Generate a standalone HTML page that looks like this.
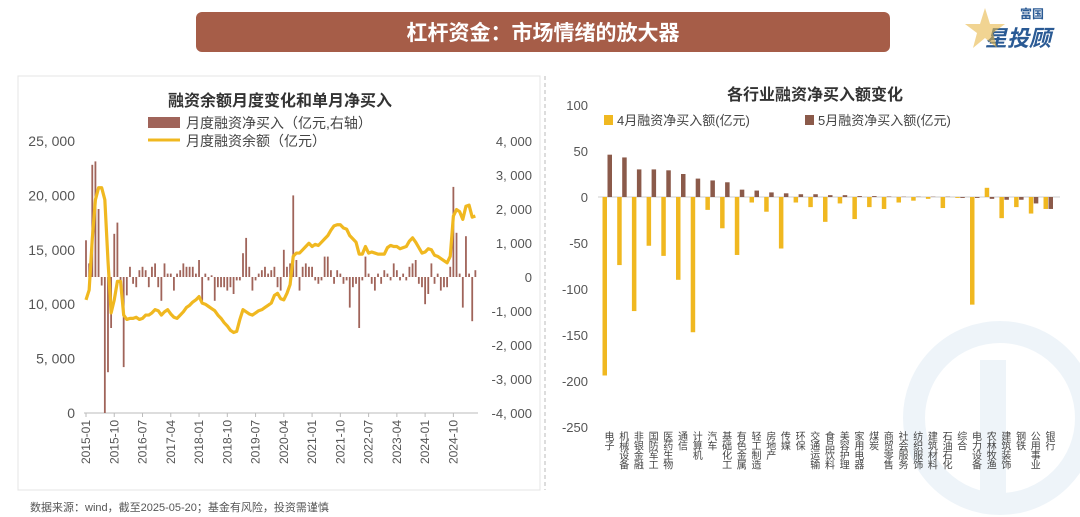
<!DOCTYPE html>
<html><head><meta charset="utf-8">
<style>
html,body{margin:0;width:1080px;height:517px;background:#fff;overflow:hidden;font-family:"Liberation Sans","Noto Sans CJK SC",sans-serif;position:relative}
svg{position:absolute;left:0;top:0;overflow:hidden}
</style></head>
<body>
<svg id="s" width="1080" height="517" viewBox="0 0 1080 517">
  <g opacity="0.35">
    <circle cx="1000" cy="418" r="86" fill="none" stroke="#cfe0ee" stroke-width="22"/>
    <rect x="980" y="360" width="26" height="150" fill="#cfe0ee"/>
  </g>
  <rect x="196" y="12" width="694" height="40" rx="6" fill="#a65d48"/>
  <text x="543" y="40" text-anchor="middle" font-size="21" font-weight="bold" fill="#fff">杠杆资金：市场情绪的放大器</text>
  <text x="1020" y="18" font-size="12" font-weight="bold" fill="#2a5a94">富国</text>
  <text x="985" y="46" font-size="22" font-weight="bold" fill="#2a5a94" font-style="italic">星投顾</text>
  <polygon points="985,8 990,24 1005,24 993,33 997,48 985,38 973,48 977,33 965,24 980,24" fill="#e8b84a" opacity="0.6"/>
  <rect x="18" y="76" width="522" height="414" fill="none" stroke="#e4e4e4"/>
  <line x1="545" y1="76" x2="545" y2="490" stroke="#bbb" stroke-dasharray="4,3"/>
  <text x="280" y="106" text-anchor="middle" font-size="16" font-weight="bold" fill="#333">融资余额月度变化和单月净买入</text>
  <rect x="148" y="117" width="32" height="11" fill="#a0645a"/>
  <text x="186" y="128" font-size="14" fill="#444">月度融资净买入（亿元,右轴）</text>
  <line x1="148" y1="140" x2="180" y2="140" stroke="#f0b820" stroke-width="3"/>
  <text x="186" y="146" font-size="14" fill="#444">月度融资余额（亿元）</text>
  <text x="815" y="100" text-anchor="middle" font-size="16" font-weight="bold" fill="#333">各行业融资净买入额变化</text>
  <rect x="604" y="115" width="9" height="10" fill="#f0b820"/>
  <text x="617" y="125" font-size="13" fill="#444">4月融资净买入额(亿元)</text>
  <rect x="805" y="115" width="9" height="10" fill="#8b5a4a"/>
  <text x="818" y="125" font-size="13" fill="#444">5月融资净买入额(亿元)</text>
  <g id="left"></g>
  <g id="right"></g>
  <text x="30" y="511" font-size="11" fill="#555">数据来源：wind，截至2025-05-20；基金有风险，投资需谨慎</text>
</svg>
<script>
const balance=[10400,11300,16000,19600,20700,20700,19600,14000,9200,10400,12100,12100,
9000,8600,8700,8700,8800,8600,8700,9000,9000,9200,9500,9400,
9000,9300,9500,9100,8800,8700,9000,9300,9700,9900,10200,10400,
10700,10100,10000,9800,9600,9400,9000,8700,8300,8000,7600,7400,
7500,8600,9500,9300,9100,9000,9200,9400,9500,9700,9900,10100,
10800,11000,10500,10400,11000,11800,14400,14700,14700,15000,15300,15600,
15300,15500,15400,15700,16000,16300,16800,17200,17300,17300,17000,16900,
16300,16000,15700,14600,14600,15300,14700,14800,14700,14600,14600,14600,
15200,15400,15300,15300,15100,15200,15300,15800,16100,15700,15200,14700,
14800,15100,15000,14500,14400,14200,14000,13800,14400,18100,18700,18500,
17800,19000,19100,18000,18100];
const netBuy=[1080,400,3300,3400,2000,-250,-4000,-2800,-1500,1270,1600,-250,
-2650,-540,300,-200,-300,200,300,200,-300,300,400,-300,
-700,400,100,100,-400,100,200,400,300,300,300,100,
500,-700,100,-100,50,-700,-300,-300,-300,-400,-300,-500,
-100,-100,700,1150,300,-400,-100,100,200,300,100,200,
300,-300,-400,800,300,400,2400,500,-400,300,400,300,
300,-100,-200,-100,600,600,200,-200,200,100,-200,-100,
-900,-300,-200,-1500,-100,600,100,-200,-400,100,-200,200,
100,-100,400,200,-100,100,-100,300,400,500,-200,-300,
-800,-500,400,-200,100,-400,-300,-300,300,2650,1300,100,
-900,1200,100,-1300,200];
const leftTicks=["0","5, 000","10, 000","15, 000","20, 000","25, 000"];
const leftTickVals=[0,5000,10000,15000,20000,25000];
const rightTicks=["-4, 000","-3, 000","-2, 000","-1, 000","0","1, 000","2, 000","3, 000","4, 000"];
const rightTickVals=[-4000,-3000,-2000,-1000,0,1000,2000,3000,4000];
const monthLabels=["2015-01","2015-10","2016-07","2017-04","2018-01","2018-10","2019-07","2020-04","2021-01","2021-10","2022-07","2023-04","2024-01","2024-10"];

const industries=["电子","机械设备","非银金融","国防军工","医药生物","通信","计算机","汽车","基础化工","有色金属","轻工制造","房地产","传媒","环保","交通运输","食品饮料","美容护理","家用电器","煤炭","商贸零售","社会服务","纺织服饰","建筑材料","石油石化","综合","电力设备","农林牧渔","建筑装饰","钢铁","公用事业","银行"];
const april=[-194,-74,-124,-53,-64,-90,-147,-14,-34,-63,-6,-16,-56,-6,-11,-27,-7,-24,-11,-13,-6,-4,-2,-12,-1,-117,10,-23,-11,-18,-13];
const may=[46,43,30,30,29,25,20,18,16,8,7,5,4,3,3,2,2,1,1,0.5,0.3,0.3,0.3,0.3,-1,-1,-2,-3,-3,-7,-13];
const rTicks=["-250","-200","-150","-100","-50","0","50","100"];
const rTickVals=[-250,-200,-150,-100,-50,0,50,100];

const NS="http://www.w3.org/2000/svg";
function mk(p,t,a){const e=document.createElementNS(NS,t);for(const k in a)e.setAttribute(k,a[k]);p.appendChild(e);return e;}
const L=document.getElementById('left');
const xM=i=>86+i*3.14;
const yL=v=>413-v/25000*272;
const yR=v=>277-v/4000*136;
leftTickVals.forEach((v,i)=>{const t=mk(L,'text',{x:75,y:yL(v)+5,'text-anchor':'end','font-size':14,fill:'#555'});t.textContent=leftTicks[i];

});
rightTickVals.forEach((v,i)=>{const t=mk(L,'text',{x:532,y:yR(v)+5,'text-anchor':'end','font-size':13,fill:'#555'});t.textContent=rightTicks[i];

});
const ax=mk(L,'line',{x1:84,y1:413,x2:478,y2:413,stroke:'#bbb'});


monthLabels.forEach((m,k)=>{const i=k*9;const x=xM(i);
const tk=mk(L,'line',{x1:x,y1:413,x2:x,y2:417,stroke:'#bbb'});


const t=mk(L,'text',{x:0,y:0,'text-anchor':'end','font-size':12,fill:'#555',transform:`translate(${x+4},${420}) rotate(-90)`});t.textContent=m;

});
netBuy.forEach((v,i)=>{const y0=yR(0),y1=yR(v);const r=mk(L,'rect',{x:xM(i)-0.9,y:Math.min(y0,y1),width:1.8,height:Math.max(0.5,Math.abs(y1-y0)),fill:'#a0645a'});

});
const pl=mk(L,'polyline',{points:balance.map((v,i)=>xM(i)+','+yL(v)).join(' '),fill:'none',stroke:'#f0b820','stroke-width':3.2,'stroke-linejoin':'round'});


const R=document.getElementById('right');
const yB=v=>197-v*0.92;
const xC=i=>607.5+i*14.7;
rTickVals.forEach((v,i)=>{const t=mk(R,'text',{x:588,y:yB(v)+5,'text-anchor':'end','font-size':13,fill:'#555'});t.textContent=rTicks[i];

});
const zl=mk(R,'line',{x1:598,y1:197,x2:1060,y2:197,stroke:'#ccc'});


industries.forEach((n,i)=>{
const a=april[i],b=may[i];
const r1=mk(R,'rect',{x:xC(i)-5,y:Math.min(yB(0),yB(a)),width:4.5,height:Math.abs(yB(a)-yB(0)),fill:'#f0b820'});


const r2=mk(R,'rect',{x:xC(i),y:Math.min(yB(0),yB(b)),width:4.5,height:Math.abs(yB(b)-yB(0)),fill:'#8b5a4a'});


const t=mk(R,'text',{x:xC(i),y:431,'font-size':10,fill:'#444',style:'writing-mode:vertical-rl;text-orientation:upright;letter-spacing:-0.5px'});t.textContent=n;


});
</script>
</body></html>
